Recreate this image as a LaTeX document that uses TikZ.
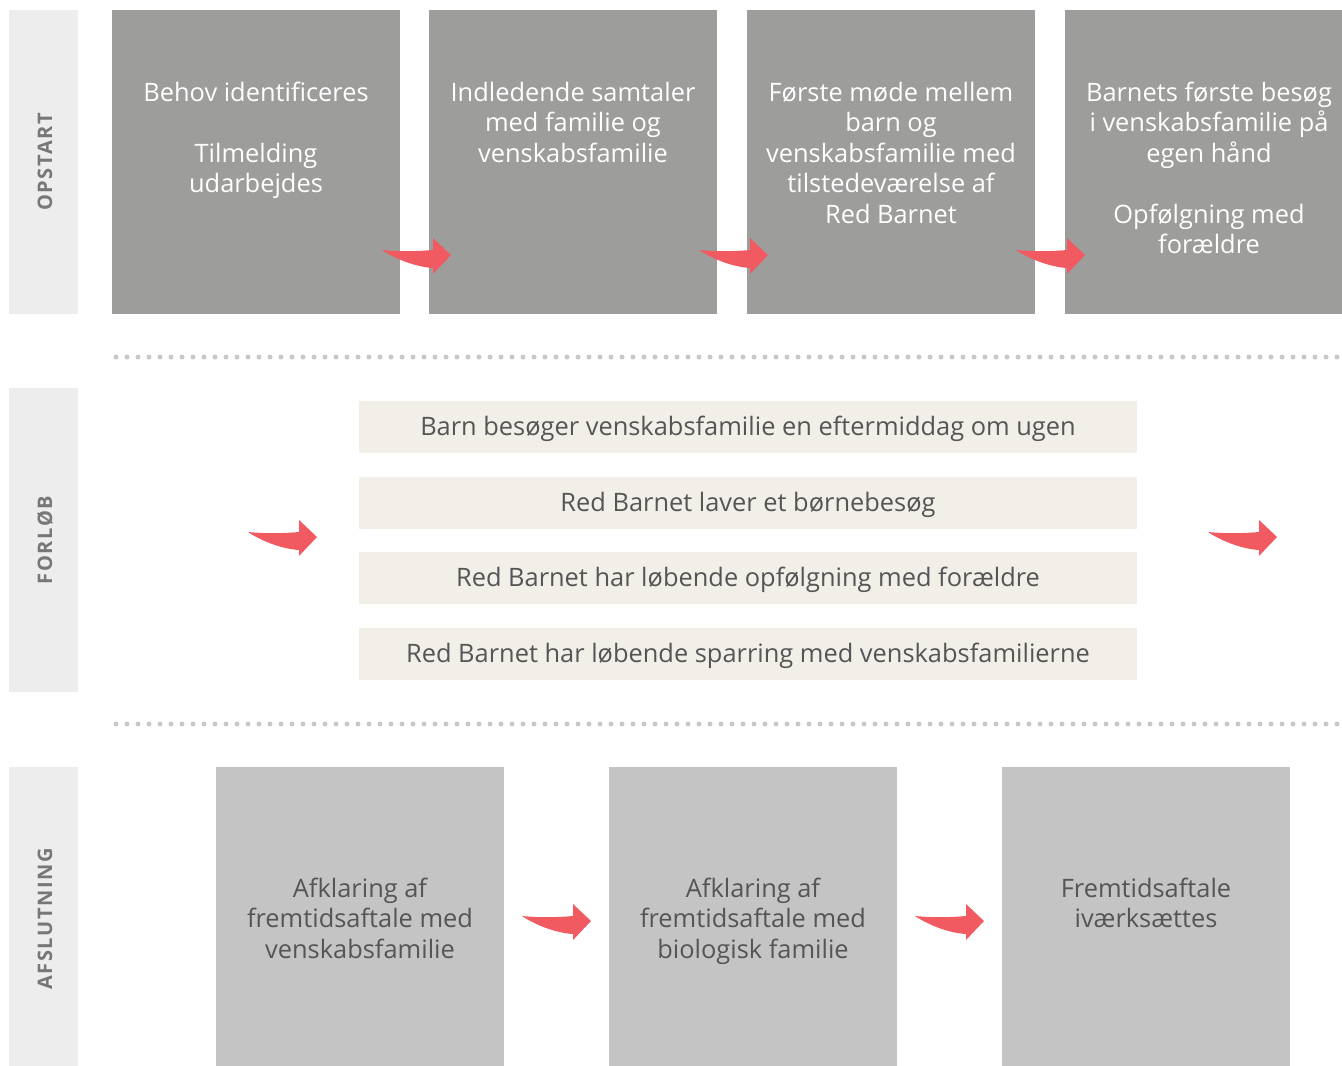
\documentclass[tikz,border=0pt]{standalone}
\usepackage{fontspec}
\setmainfont{Open Sans}
\newfontfamily\sidefont[LetterSpace=8]{Open Sans}
\definecolor{topgray}{HTML}{9D9D9B}
\definecolor{botgray}{HTML}{C4C4C4}
\definecolor{sidegray}{HTML}{EDEDED}
\definecolor{bargray}{HTML}{F2EEE8}
\definecolor{arrowred}{HTML}{F15A60}
\definecolor{dotgray}{HTML}{C8C8C8}
\definecolor{darktext}{HTML}{555555}
\definecolor{sidetext}{HTML}{777777}
\tikzset{
  topbox/.style={draw=none, fill=topgray, minimum width=288pt, minimum height=304pt, inner sep=0pt},
  botbox/.style={draw=none, fill=botgray, minimum width=288pt, minimum height=299pt, inner sep=0pt},
  sidebox/.style={draw=none, fill=sidegray, minimum width=69pt, inner sep=0pt},
  barbox/.style={draw=none, fill=bargray, minimum width=778pt, minimum height=52pt, inner sep=0pt,
    text height=20pt, text depth=3pt,
    text=darktext, font=\fontsize{25.4}{30.5}\selectfont},
  toptext/.style={anchor=north, align=center, text=white, inner sep=0pt, font=\fontsize{25.4}{30.5}\selectfont},
  bottext/.style={anchor=north, align=center, text=darktext, inner sep=0pt, font=\fontsize{25.4}{30.5}\selectfont},
  sidelabel/.style={rotate=90, text=sidetext, inner sep=0pt, font=\sidefont\bfseries\fontsize{20}{24}\selectfont},
  dotline/.style={dotgray, line width=5pt, line cap=round, dash pattern=on 0pt off 11pt},
  swoosh/.pic={\fill[arrowred] (0,0) .. controls (20,2) and (40,1) .. (51,0) -- (51,-12) -- (69,5) -- (51,24) -- (51,18) .. controls (35,17) and (15,10) .. (0,0) -- cycle;}
}
\begin{document}
\begin{tikzpicture}[x=1pt,y=-1pt]
\useasboundingbox (0,0) rectangle (1342,1066);
% side labels
\node[sidebox, minimum height=304pt] (s1) at (43.5,162) {};
\node[sidebox, minimum height=304pt] (s2) at (43.5,540) {};
\node[sidebox, minimum height=299pt] (s3) at (43.5,916.5) {};
\node[sidelabel] (l1) at (45,162) {OPSTART};
\node[sidelabel] (l2) at (45,540) {FORLØB};
\node[sidelabel] (l3) at (45,919) {AFSLUTNING};
% top boxes
\node[topbox] (b1) at (256,162) {};
\node[topbox] (b2) at (573,162) {};
\node[topbox] (b3) at (891,162) {};
\node[topbox] (b4) at (1209,162) {};
\node[toptext] (t1) at ([yshift=-72pt]b1.north) {Behov identificeres\\[30.5pt]Tilmelding\\udarbejdes};
\node[toptext] (t2) at ([yshift=-72pt]b2.north) {Indledende samtaler\\med familie og\\venskabsfamilie};
\node[toptext] (t3) at ([yshift=-72pt]b3.north) {Første møde mellem\\barn og\\venskabsfamilie med\\tilstedeværelse af\\Red Barnet};
\node[toptext] (t4) at ([yshift=-72pt]b4.north) {Barnets første besøg\\i venskabsfamilie på\\egen hånd\\[30.5pt]Opfølgning med\\forældre};
\pic at (382,250) {swoosh};
\pic at (699,250) {swoosh};
\pic at (1016,250) {swoosh};
% dotted separators
\coordinate (d1a) at (116,357); \coordinate (d1b) at (1342,357);
\coordinate (d2a) at (116,724); \coordinate (d2b) at (1342,724);
\draw[dotline] (d1a) -- (d1b);
\draw[dotline] (d2a) -- (d2b);
% middle bars
\node[barbox] (m1) at (748,427) {Barn besøger venskabsfamilie en eftermiddag om ugen};
\node[barbox] (m2) at (748,503) {Red Barnet laver et børnebesøg};
\node[barbox] (m3) at (748,578) {Red Barnet har løbende opfølgning med forældre};
\node[barbox] (m4) at (748,654) {Red Barnet har løbende sparring med venskabsfamilierne};
\pic at (248,532) {swoosh};
\pic at (1208,532) {swoosh};
% bottom boxes
\node[botbox] (c1) at (360,916.5) {};
\node[botbox] (c2) at (753,916.5) {};
\node[botbox] (c3) at (1146,916.5) {};
\node[bottext] (u1) at ([yshift=-111pt]c1.north) {Afklaring af\\fremtidsaftale med\\venskabsfamilie};
\node[bottext] (u2) at ([yshift=-111pt]c2.north) {Afklaring af\\fremtidsaftale med\\biologisk familie};
\node[bottext] (u3) at ([yshift=-111pt]c3.north) {Fremtidsaftale\\iværksættes};
\pic at (522,916) {swoosh};
\pic at (915,916) {swoosh};
\end{tikzpicture}
\end{document}
